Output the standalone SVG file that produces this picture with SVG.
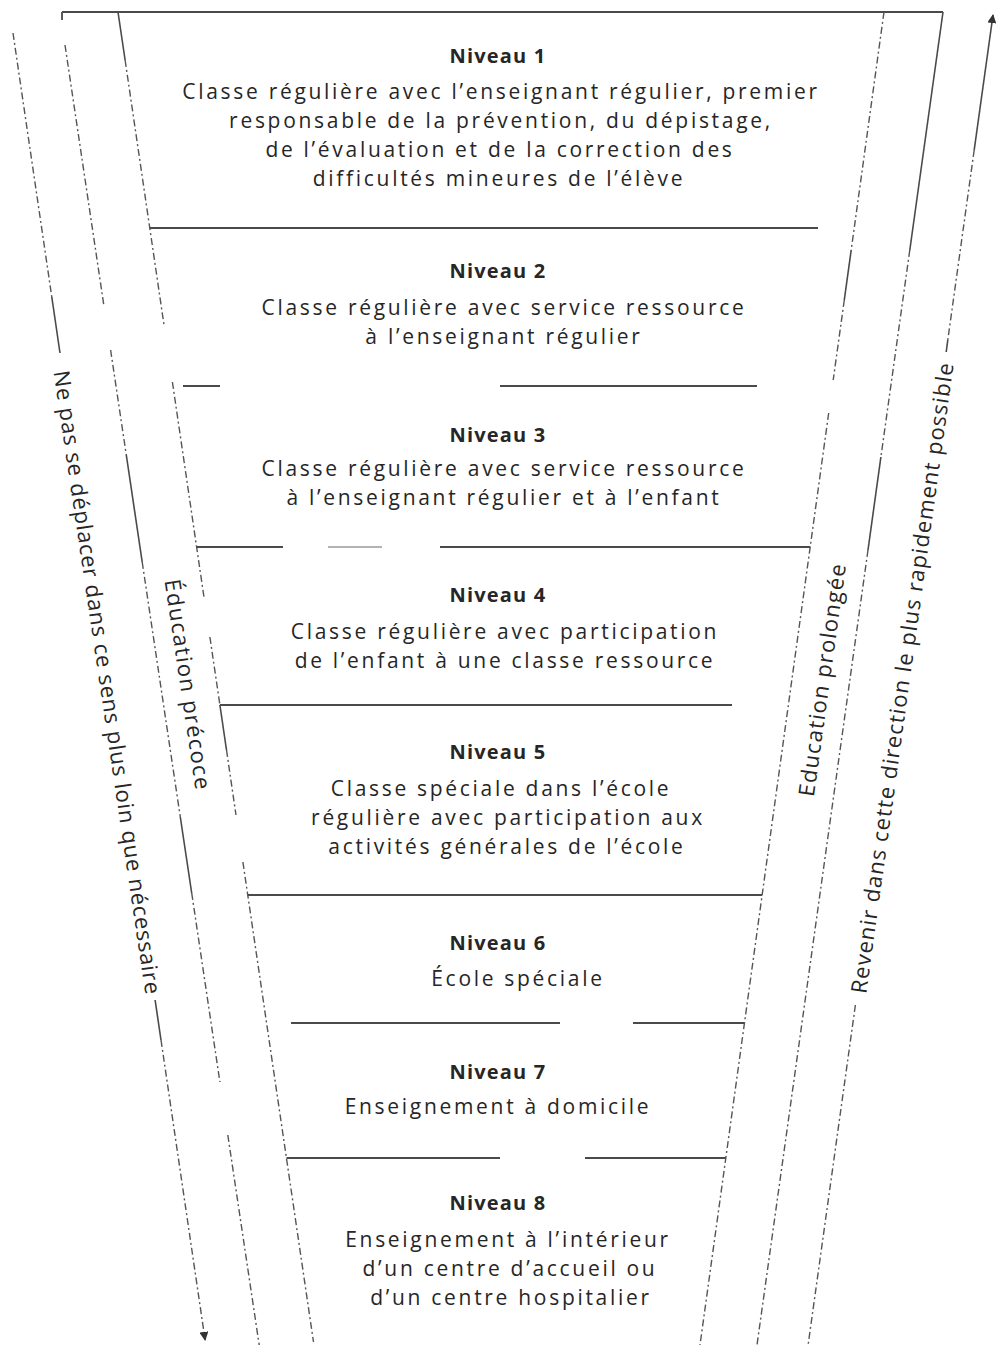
<svg xmlns="http://www.w3.org/2000/svg" width="996" height="1345" viewBox="0 0 996 1345">
<defs>
<style>
.bg{fill:#ffffff}
.sol{fill:none;stroke:#4a4a4a;stroke-width:1.6;stroke-linecap:butt}
.hl{fill:none;stroke:#4a4a4a;stroke-width:1.8}
.faint{fill:none;stroke:#9a9a9a;stroke-width:1.4}
.dsh{fill:none;stroke:#555;stroke-width:1.4;stroke-dasharray:7 3 2 3}
.t{font-family:'Open Sans','Noto Sans','DejaVu Sans',sans-serif;font-size:21px;letter-spacing:2.7px;fill:#262626;text-anchor:middle}
.h{font-family:'Open Sans','Noto Sans','DejaVu Sans',sans-serif;font-size:20px;font-weight:bold;letter-spacing:1.2px;fill:#262626;text-anchor:middle}
.side{font-family:'Open Sans','Noto Sans','DejaVu Sans',sans-serif;font-size:22px;fill:#262626;text-anchor:middle;dominant-baseline:central}
</style>
<marker id="arr" viewBox="0 0 10 10" refX="9" refY="5" markerWidth="9" markerHeight="9" markerUnits="userSpaceOnUse" orient="auto">
<path d="M0,0 L10,5 L0,10 Z" fill="#333"/>
</marker>
</defs>
<rect class="bg" x="0" y="0" width="996" height="1345"/>

<g id="frame">
<path class="hl" d="M62,12 H943 M62,12 V20"/>
</g>

<g id="connectors">
<!-- left outer arrow: Ne pas se deplacer -->
<path class="dsh" d="M13,33 L51.8,297"/>
<path class="sol" d="M51.8,297 L60,353"/>
<path class="sol" d="M155.1,1000 L161,1040"/>
<path class="dsh" d="M161,1040 L205.1,1340" marker-end="url(#arr)"/>
<!-- left band line (education precoce) -->
<path class="dsh" d="M65,45 L103.8,305"/>
<path class="dsh" d="M110.6,350 L126.3,455"/>
<path class="sol" d="M126.3,455 L142.2,562"/>
<path class="dsh" d="M142.2,562 L180.3,817"/>
<path class="sol" d="M180.3,817 L191.7,893"/>
<path class="dsh" d="M191.7,893 L219.9,1082"/>
<path class="dsh" d="M227.8,1135 L259.2,1345"/>
<!-- funnel left edge -->
<path class="sol" d="M118,12 L125.1,60"/>
<path class="dsh" d="M125.1,60 L164.3,327"/>
<path class="dsh" d="M172.4,382 L204.1,598"/>
<path class="dsh" d="M209.9,637 L219.9,705"/>
<path class="sol" d="M219.9,705 L226.5,750"/>
<path class="dsh" d="M226.5,750 L236,815"/>
<path class="dsh" d="M242.9,862 L313.5,1342"/>
<!-- funnel right edge -->
<path class="dsh" d="M884,12 L851.2,250"/>
<path class="sol" d="M851.2,250 L844.3,300"/>
<path class="dsh" d="M844.3,300 L833.2,380"/>
<path class="dsh" d="M828.7,413 L700,1345"/>
<!-- right band line (education prolongee) -->
<path class="sol" d="M943,12 L909.8,250"/>
<path class="dsh" d="M909.8,250 L880.9,457"/>
<path class="sol" d="M880.9,457 L868,550"/>
<path class="dsh" d="M868,550 L757,1345"/>
<!-- right outer arrow: Revenir -->
<path class="sol" d="M974.2,150 L993,15" marker-end="url(#arr)"/>
<path class="dsh" d="M974.2,150 L947.8,340"/>
<path class="sol" d="M947.8,340 L946.2,352"/>
<path class="dsh" d="M855.4,1005 L808.1,1345"/>
</g>

<g id="dividers">
<path class="hl" d="M149.8,228 H818"/>
<path class="hl" d="M183,386 H220 M500,386 H757"/>
<path class="hl" d="M196.6,547 H283 M440,547 H810.2"/>
<path class="faint" d="M328,547 H382"/>
<path class="hl" d="M219.9,705 H732"/>
<path class="hl" d="M247.8,895 H762"/>
<path class="hl" d="M291,1023 H560 M633,1023 H744.5"/>
<path class="hl" d="M286.5,1158 H500 M585,1158 H725.9"/>
</g>

<g id="level1">
<text class="h" x="498" y="63">Niveau 1</text>
<text class="t" x="501" y="99">Classe régulière avec l’enseignant régulier, premier</text>
<text class="t" x="501" y="128">responsable de la prévention, du dépistage,</text>
<text class="t" x="500" y="157">de l’évaluation et de la correction des</text>
<text class="t" x="499" y="186">difficultés mineures de l’élève</text>
</g>
<g id="level2">
<text class="h" x="498" y="278">Niveau 2</text>
<text class="t" x="504" y="315">Classe régulière avec service ressource</text>
<text class="t" x="504" y="344">à l’enseignant régulier</text>
</g>
<g id="level3">
<text class="h" x="498" y="442">Niveau 3</text>
<text class="t" x="504" y="476">Classe régulière avec service ressource</text>
<text class="t" x="504" y="505">à l’enseignant régulier et à l’enfant</text>
</g>
<g id="level4">
<text class="h" x="498" y="602">Niveau 4</text>
<text class="t" x="505" y="639">Classe régulière avec participation</text>
<text class="t" x="505" y="668">de l’enfant à une classe ressource</text>
</g>
<g id="level5">
<text class="h" x="498" y="759">Niveau 5</text>
<text class="t" x="501" y="796">Classe spéciale dans l’école</text>
<text class="t" x="508" y="825">régulière avec participation aux</text>
<text class="t" x="507" y="854">activités générales de l’école</text>
</g>
<g id="level6">
<text class="h" x="498" y="950">Niveau 6</text>
<text class="t" x="518" y="986">École spéciale</text>
</g>
<g id="level7">
<text class="h" x="498" y="1079">Niveau 7</text>
<text class="t" x="498" y="1114">Enseignement à domicile</text>
</g>
<g id="level8">
<text class="h" x="498" y="1210">Niveau 8</text>
<text class="t" x="508" y="1247">Enseignement à l’intérieur</text>
<text class="t" x="510" y="1276">d’un centre d’accueil ou</text>
<text class="t" x="511" y="1305">d’un centre hospitalier</text>
</g>

<g id="label-ne-pas">
<text class="side" transform="translate(108.4,682) rotate(81.6)" textLength="630" lengthAdjust="spacing">Ne pas se déplacer dans ce sens plus loin que nécessaire</text>
</g>
<g id="label-precoce">
<text class="side" transform="translate(189,684) rotate(81.6)" textLength="212" lengthAdjust="spacing">Éducation précoce</text>
</g>
<g id="label-prolongee">
<text class="side" transform="translate(821,680) rotate(-82.1)" textLength="234" lengthAdjust="spacing">Education prolongée</text>
</g>
<g id="label-revenir">
<text class="side" transform="translate(901,678) rotate(-82.1)" textLength="636" lengthAdjust="spacing">Revenir dans cette direction le plus rapidement possible</text>
</g>
</svg>
